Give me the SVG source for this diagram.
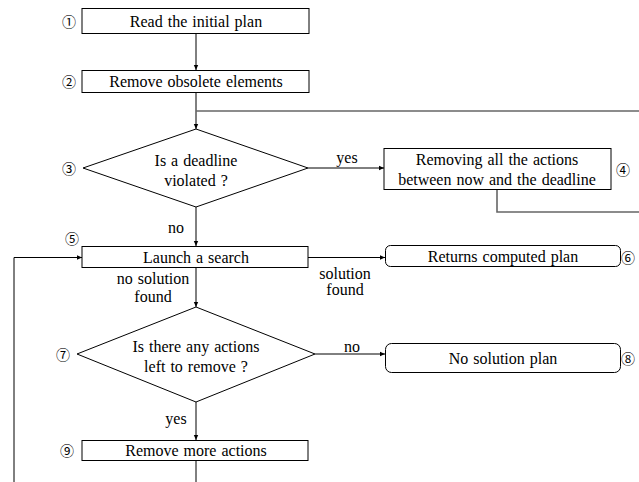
<svg xmlns="http://www.w3.org/2000/svg" width="639" height="482" viewBox="0 0 639 482">
<defs>
<marker id="ah" markerWidth="6" markerHeight="6" refX="5" refY="3" orient="auto" markerUnits="userSpaceOnUse">
<path d="M0,0.8 L5,3 L0,5.2 Z" fill="#000"/>
</marker>
</defs>
<style>
.box{fill:#fff;stroke:#000;stroke-width:1}
.t{font-family:'Liberation Serif',serif;font-size:16px;fill:#000;text-anchor:middle;dominant-baseline:central;word-spacing:1px}
.num{font-family:'Noto Sans CJK JP',sans-serif;font-size:14px;fill:#000;text-anchor:middle;dominant-baseline:central}
.c{fill:none;stroke:#000;stroke-width:1}
.g{fill:none;stroke:#666;stroke-width:1.6}
</style>
<rect width="639" height="482" fill="#fff"/>
<g id="connectors">
<path class="c" d="M196,33 V70" marker-end="url(#ah)"/>
<path class="c" d="M196,92 V129" marker-end="url(#ah)"/>
<path class="g" d="M196,111 H639"/>
<path class="c" d="M308,168 H384" marker-end="url(#ah)"/>
<path class="g" d="M497,189 V212 H639"/>
<path class="c" d="M196,207 V246" marker-end="url(#ah)"/>
<path class="c" d="M308,257.5 H385" marker-end="url(#ah)"/>
<path class="c" d="M196,267 V307" marker-end="url(#ah)"/>
<path class="c" d="M315,354 H385" marker-end="url(#ah)"/>
<path class="c" d="M196,402 V440" marker-end="url(#ah)"/>
<path class="c" d="M196,461 V482"/>
<path class="c" d="M14,482 V257.5 H82" marker-end="url(#ah)"/>
<text class="t" font-family="Liberation Serif" x="347" y="157">yes</text>
<text class="t" font-family="Liberation Serif" x="176" y="227">no</text>
<text class="t" font-family="Liberation Serif" x="153" y="278">no solution</text>
<text class="t" font-family="Liberation Serif" x="153" y="296">found</text>
<text class="t" font-family="Liberation Serif" x="345" y="273">solution</text>
<text class="t" font-family="Liberation Serif" x="345" y="289">found</text>
<text class="t" font-family="Liberation Serif" x="352" y="346">no</text>
<text class="t" font-family="Liberation Serif" x="176" y="418">yes</text>
</g>
<g id="n1">
<rect class="box" x="82" y="8.5" width="227" height="25"/>
<text class="t" font-family="Liberation Serif" x="196" y="21">Read the initial plan</text>
<text class="num" x="69" y="20.5">①</text>
</g>
<g id="n2">
<rect class="box" x="82" y="70.5" width="227" height="22"/>
<text class="t" font-family="Liberation Serif" x="196" y="81.5">Remove obsolete elements</text>
<text class="num" x="69" y="81">②</text>
</g>
<g id="n3">
<polygon class="box" points="196,129 308,168 196,207 83,168"/>
<text class="t" font-family="Liberation Serif" x="196" y="160">Is a deadline</text>
<text class="t" font-family="Liberation Serif" x="196" y="180">violated ?</text>
<text class="num" x="69" y="168">③</text>
</g>
<g id="n4">
<rect class="box" x="384" y="148.5" width="227" height="41"/>
<text class="t" font-family="Liberation Serif" x="497" y="159.5">Removing all the actions</text>
<text class="t" font-family="Liberation Serif" x="497" y="179">between now and the deadline</text>
<text class="num" x="623" y="169">④</text>
</g>
<g id="n5">
<rect class="box" x="82" y="246.5" width="226" height="21"/>
<text class="t" font-family="Liberation Serif" x="196" y="257">Launch a search</text>
<text class="num" x="72" y="238">⑤</text>
</g>
<g id="n6">
<rect class="box" x="385.5" y="245.5" width="235" height="21" rx="5"/>
<text class="t" font-family="Liberation Serif" x="503" y="256">Returns computed plan</text>
<text class="num" x="628" y="257">⑥</text>
</g>
<g id="n7">
<polygon class="box" points="196,307 315,354 196,402 77,354"/>
<text class="t" font-family="Liberation Serif" x="196" y="346">Is there any actions</text>
<text class="t" font-family="Liberation Serif" x="196" y="366">left to remove ?</text>
<text class="num" x="63" y="354">⑦</text>
</g>
<g id="n8">
<rect class="box" x="385.5" y="343.5" width="235" height="29" rx="6"/>
<text class="t" font-family="Liberation Serif" x="503" y="358">No solution plan</text>
<text class="num" x="628" y="358">⑧</text>
</g>
<g id="n9">
<rect class="box" x="82" y="440.5" width="226" height="20"/>
<text class="t" font-family="Liberation Serif" x="196" y="450.5">Remove more actions</text>
<text class="num" x="67" y="450">⑨</text>
</g>
</svg>
